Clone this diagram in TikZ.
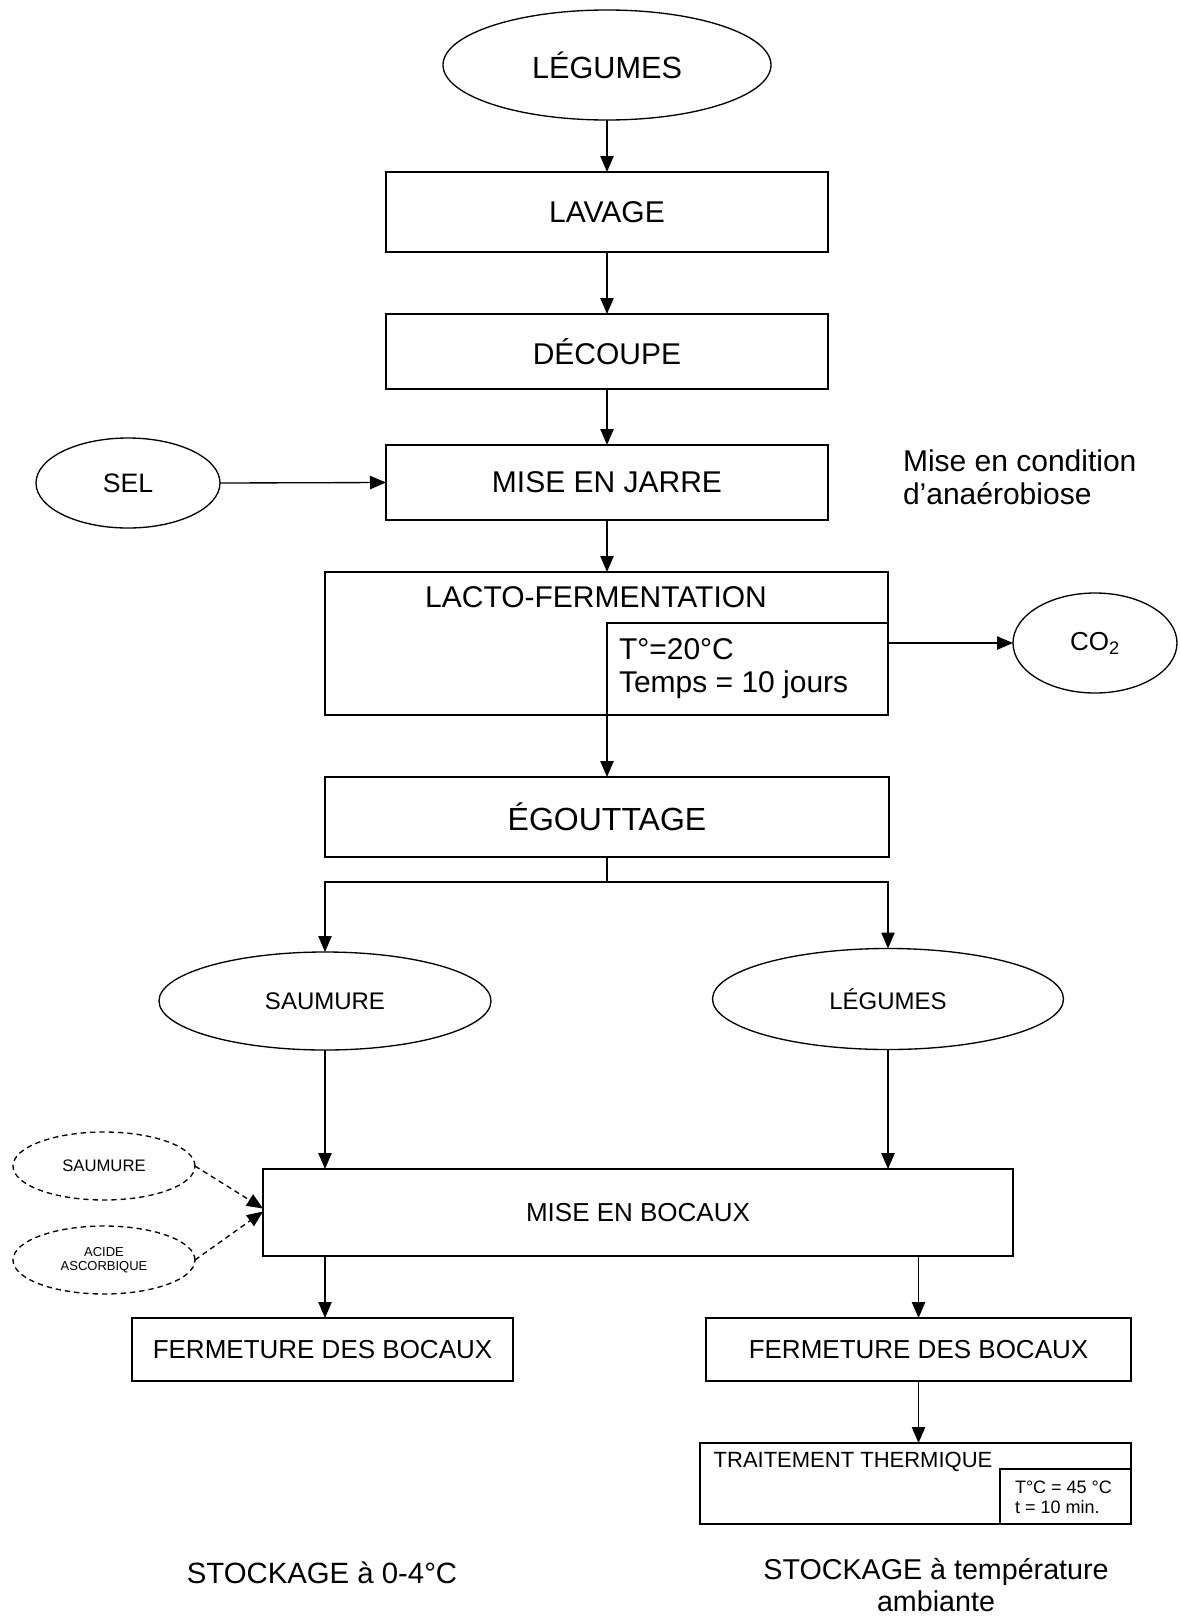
\documentclass[tikz,border=0pt]{standalone}
\usepackage{fontspec}
\setmainfont{Liberation Sans}
\usetikzlibrary{arrows.meta,shapes.geometric,calc}
\begin{document}
\begin{tikzpicture}[x=0.75pt,y=-0.75pt,
  box/.style={draw,line width=1pt,rectangle,inner sep=0pt,outer sep=0pt},
  oval/.style={draw,line width=1pt,ellipse,inner sep=0pt,outer sep=0pt},
  dov/.style={oval,dash pattern=on 4pt off 3pt},
  arr/.style={line width=1pt,-{Triangle[length=12pt,width=10pt]}},
  darr/.style={arr,dash pattern=on 4pt off 3pt},
  fbig/.style={font=\fontsize{22.5}{24.75}\selectfont},
  fmed/.style={font=\fontsize{19.5}{22}\selectfont},
  fsm/.style={font=\fontsize{18}{20}\selectfont},
  txt/.style={inner sep=0pt,outer sep=0pt},
]
\fill[white] (0,0) rectangle (1179,1617);
\useasboundingbox (0,0) rectangle (1179,1617);

% top column
\node[oval,font=\fontsize{23}{26}\selectfont,minimum width=246pt,minimum height=82.5pt] (leg1) at (607,65) {LÉGUMES};
\node[box,fbig,minimum width=331.5pt,minimum height=60pt] (lavage) at (607,212) {LAVAGE};
\node[box,fbig,minimum width=331.5pt,minimum height=56.25pt] (decoupe) at (607,351.5) {DÉCOUPE};
\node[box,fbig,minimum width=331.5pt,minimum height=56.25pt] (jarre) at (607,482.5) {MISE EN JARRE};
\node[oval,font=\fontsize{20}{22}\selectfont,minimum width=138pt,minimum height=67.5pt] (sel) at (128,483) {SEL};
\node[txt,fbig,align=left,anchor=west] (anaer) at (903,477) {Mise en condition\\d’anaérobiose};

% lacto-fermentation
\node[box,minimum width=422.25pt,minimum height=107.25pt] (lacto) at (606.5,643.5) {};
\node[txt,fbig] (lactolbl) at (596,597) {LACTO-FERMENTATION};
\node[box,minimum width=210.75pt,minimum height=69pt] (lactoin) at (747.5,669) {};
\node[txt,fbig,align=left,anchor=west] (lactotxt) at (619,669) {T°=20°C\\Temps = 10 jours};
\node[oval,font=\fontsize{19.5}{22}\selectfont,minimum width=123pt,minimum height=75pt] (co2) at (1095,643) {CO\textsubscript{2}};

% egouttage
\node[box,font=\fontsize{24}{26}\selectfont,minimum width=423pt,minimum height=60pt] (egout) at (607,817) {ÉGOUTTAGE};
\coordinate (br) at (607,882);
\node[oval,fsm,minimum width=249pt,minimum height=73.5pt] (saum) at (325,1001) {SAUMURE};
\node[oval,fsm,minimum width=263.25pt,minimum height=75.75pt] (leg2) at (888,999) {LÉGUMES};

% mise en bocaux
\node[box,fmed,minimum width=562.5pt,minimum height=65.25pt] (bocaux) at (638,1212.5) {MISE EN BOCAUX};
\node[dov,font=\fontsize{12.5}{14}\selectfont,minimum width=136.5pt,minimum height=51pt] (saum2) at (104,1166) {SAUMURE};
\node[dov,align=center,font=\fontsize{9.75}{10.5}\selectfont,minimum width=136.5pt,minimum height=51pt] (acide) at (104,1260) {ACIDE\\ASCORBIQUE};

% fermeture
\node[box,fmed,minimum width=285.75pt,minimum height=47.25pt] (ferm1) at (322.5,1349.5) {FERMETURE DES BOCAUX};
\node[box,fmed,minimum width=318.75pt,minimum height=47.25pt] (ferm2) at (918.5,1349.5) {FERMETURE DES BOCAUX};

% traitement thermique
\node[box,minimum width=323.25pt,minimum height=60.75pt] (trait) at (915.5,1483.5) {};
\node[txt,font=\fontsize{16.5}{18}\selectfont] (traitlbl) at (853,1462) {TRAITEMENT THERMIQUE};
\node[box,minimum width=98.25pt,minimum height=41.25pt] (traitin) at (1065.5,1496.5) {};
\node[txt,align=left,anchor=west,font=\fontsize{13.5}{15}\selectfont] (traittxt) at (1015,1497) {T°C = 45 °C\\t = 10 min.};

% stockage
\node[txt,font=\fontsize{22}{24}\selectfont] (stock1) at (322,1573) {STOCKAGE à 0-4°C};
\node[txt,font=\fontsize{21.5}{24.5}\selectfont,align=center] (stock2) at (936,1585) {STOCKAGE à température\\ambiante};

% connectors
\draw[arr] (leg1.south) -- (lavage.north);
\draw[arr] (lavage.south) -- (decoupe.north);
\draw[arr] (decoupe.south) -- (jarre.north);
\draw[arr] (jarre.south) -- (jarre.south |- lacto.north);
\draw[arr] (sel.east) -- (jarre.west);
\draw[arr] (co2.west -| lactoin.east) -- (co2.west);
\draw[arr] (lactoin.south west) -- (lactoin.south west |- egout.north);
\draw[line width=1pt] (egout.south) -- (br);
\draw[arr] (br) -| (saum.north);
\draw[arr] (br) -| (leg2.north);
\draw[arr] (saum.south) -- (saum.south |- bocaux.north);
\draw[arr] (leg2.south) -- (leg2.south |- bocaux.north);
\draw[darr] (saum2.east) -- ($(bocaux.west)+(0,-4)$);
\draw[darr] (acide.east) -- ($(bocaux.west)+(0,-1)$);
\draw[arr] (saum.south |- bocaux.south) -- (saum.south |- ferm1.north);
\draw[arr] (ferm2.north |- bocaux.south) -- (ferm2.north);
\draw[arr] (ferm2.south) -- (ferm2.south |- trait.north);
\end{tikzpicture}
\end{document}
